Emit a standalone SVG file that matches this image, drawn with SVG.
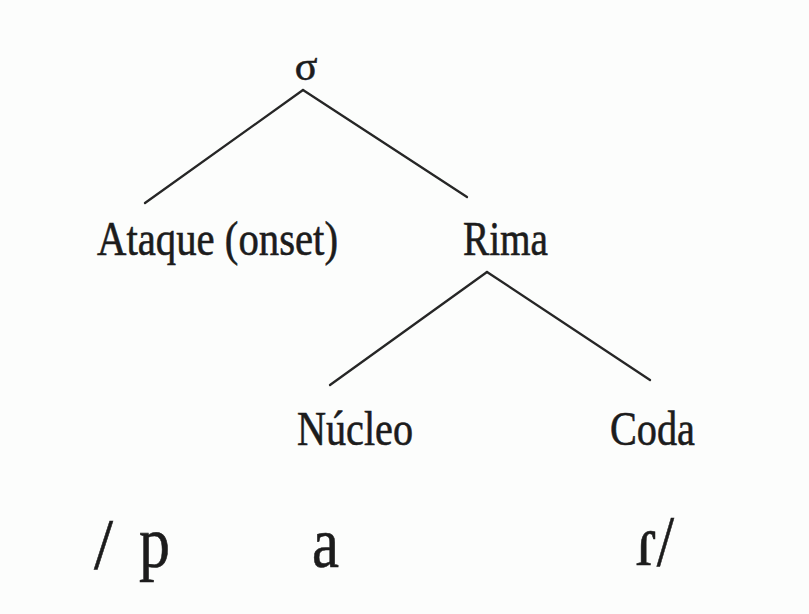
<svg xmlns="http://www.w3.org/2000/svg" width="809" height="614" viewBox="0 0 809 614">
<style>
.t{font-family:"Liberation Serif","DejaVu Serif",serif;fill:#1c1c1c;stroke:#1c1c1c;stroke-width:0.6;}
.l{font-size:48px;}
.b{font-size:72px;}
.e{stroke:#262626;stroke-width:2.3;fill:none;stroke-linecap:round;}
</style>
<rect width="809" height="614" fill="#fcfdfc"/>
<g id="connectors">
<line class="e" x1="303" y1="90" x2="145" y2="203"/>
<line class="e" x1="303" y1="90" x2="467" y2="197"/>
<line class="e" x1="487" y1="272" x2="330" y2="385"/>
<line class="e" x1="487" y1="272" x2="650" y2="380"/>
</g>
<g id="sigma"><text class="t" x="306" y="80" font-size="42" text-anchor="middle">σ</text></g>
<g id="ataque"><text class="t l" x="97" y="255" textLength="241" lengthAdjust="spacingAndGlyphs">Ataque (onset)</text></g>
<g id="rima"><text class="t l" x="463" y="255" textLength="85" lengthAdjust="spacingAndGlyphs">Rima</text></g>
<g id="nucleo"><text class="t l" x="297" y="445" textLength="116" lengthAdjust="spacingAndGlyphs">Núcleo</text></g>
<g id="coda"><text class="t l" x="610" y="445" textLength="85" lengthAdjust="spacingAndGlyphs">Coda</text></g>
<g id="segments">
<text class="t b" x="94" y="568" textLength="19" lengthAdjust="spacingAndGlyphs">/</text>
<text class="t b" x="139" y="567" textLength="31" lengthAdjust="spacingAndGlyphs">p</text>
<text class="t b" x="312" y="567" textLength="27" lengthAdjust="spacingAndGlyphs">a</text>
<text class="t b" x="636" y="565" textLength="38" lengthAdjust="spacingAndGlyphs">ɾ/</text>
</g>
</svg>
